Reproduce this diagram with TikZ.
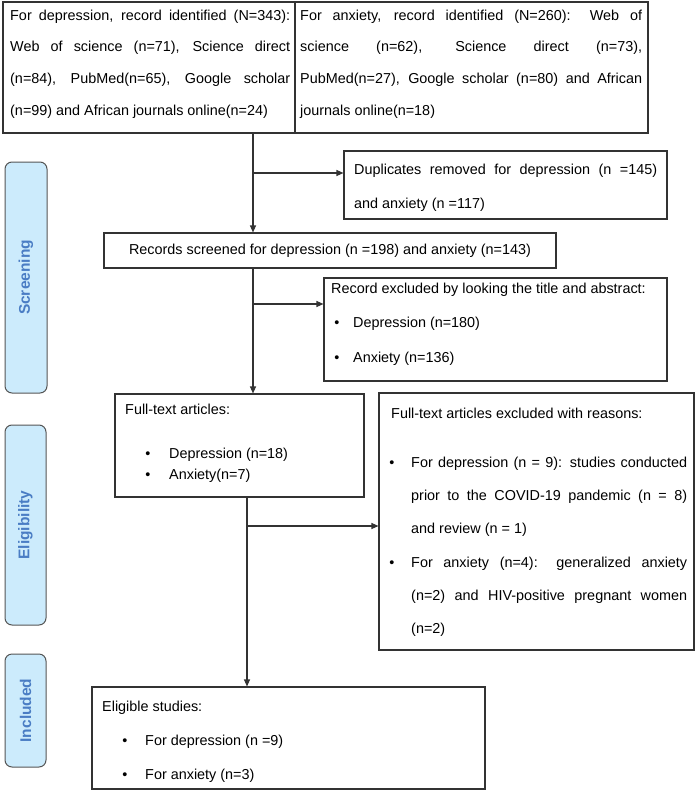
\documentclass[tikz,border=0pt]{standalone}
\usepackage{fontspec}
\setmainfont{Liberation Sans}
\usetikzlibrary{arrows.meta,fit}
\definecolor{lanefill}{HTML}{CCEBFC}
\definecolor{lanetext}{HTML}{4A7DC4}
\definecolor{lanedraw}{HTML}{555555}
\definecolor{boxdraw}{HTML}{333333}
\newcommand\fs[1]{\fontsize{14.4}{#1}\selectfont}
\newcommand\topstrut{\rule{0pt}{12pt}}
\hbadness=10000
\begin{document}
\begin{tikzpicture}[x=1pt,y=-1pt,
  box/.style={draw=boxdraw, line width=1.1pt, inner sep=0pt},
  lane/.style={draw=lanedraw, fill=lanefill, line width=1pt, rounded corners=7pt, inner sep=0pt},
  lanelabel/.style={rotate=90, text=lanetext, inner sep=0pt, font=\bfseries\fontsize{15.5}{18}\selectfont},
  para/.style={anchor=north west, inner sep=0pt, align=justify},
  oneline/.style={anchor=base west, inner sep=0pt, font=\fs{17}},
  bul/.style={anchor=base, inner sep=0pt, font=\fs{17}},
  conn/.style={draw=boxdraw, line width=1.1pt},
  arr/.style={draw=boxdraw, line width=1.1pt, -{Triangle[length=7pt,width=6pt]}}]
\useasboundingbox (0,0) rectangle (699,792);

% lanes
\node[lane, fit={(5,162) (47,393)}] (ls) {};
\node[lanelabel] (lst) at (ls.center) {Screening};
\node[lane, fit={(5,425) (46,625)}] (le) {};
\node[lanelabel] (let) at (le.center) {Eligibility};
\node[lane, fit={(5,654) (46,767)}] (li) {};
\node[lanelabel] (lit) at (li.center) {Included};

% top boxes
\node[box, fit={(3,2) (295,133)}] (tl) {};
\node[box, fit={(295,2) (648,133)}] (tr) {};
\node[para, text width=280pt, font=\fs{31.7}] (tlt) at (10,8) {\noindent\topstrut For depression, record identified (N=343):\linebreak Web of science (n=71), Science direct\linebreak (n=84), PubMed(n=65), Google scholar\linebreak (n=99) and African journals online(n=24)};
\node[para, text width=342pt, font=\fs{31.7}] (trt) at (300,8) {\noindent\topstrut For anxiety, record identified (N=260): Web of\linebreak science (n=62), Science direct (n=73),\linebreak PubMed(n=27), Google scholar (n=80) and African\linebreak journals online(n=18)};

% duplicates
\node[box, fit={(344,151) (667,219)}] (dup) {};
\node[para, text width=303pt, font=\fs{34}] (dupt) at (354,162) {\noindent\topstrut Duplicates removed for depression (n =145)\linebreak and anxiety (n =117)};

% records screened
\node[box, fit={(104,233) (556,268)}] (rs) {};
\node[inner sep=0pt, font=\fs{17}] (rst) at (rs.center) {Records screened for depression (n =198) and anxiety (n=143)};

% record excluded
\node[box, fit={(324,278) (667,381)}] (rex) {};
\node[oneline] (rext) at (331,293) {Record excluded by looking the title and abstract:};
\node[bul] (rexb1) at (337,327) {\textbullet};
\node[oneline] (rext1) at (353,327) {Depression (n=180)};
\node[bul] (rexb2) at (337,362) {\textbullet};
\node[oneline] (rext2) at (353,362) {Anxiety (n=136)};

% full-text articles
\node[box, fit={(115,394) (364,497)}] (ft) {};
\node[oneline] (ftt) at (125,414) {Full-text articles:};
\node[bul] (ftb1) at (148,458) {\textbullet};
\node[oneline] (ftt1) at (169,458) {Depression (n=18)};
\node[bul] (ftb2) at (148,479) {\textbullet};
\node[oneline] (ftt2) at (169,479) {Anxiety(n=7)};

% full-text excluded
\node[box, fit={(379,393) (694,650)}] (exr) {};
\node[oneline] (exrt) at (391,418) {Full-text articles excluded with reasons:};
\node[bul] (exrb1) at (392,467) {\textbullet};
\node[para, text width=276pt, font=\fs{33}] (exrt1) at (411,455) {\noindent\topstrut For depression (n = 9): studies conducted\linebreak prior to the COVID-19 pandemic (n = 8)\linebreak and review (n = 1)};
\node[bul] (exrb2) at (392,567) {\textbullet};
\node[para, text width=276pt, font=\fs{33}] (exrt2) at (411,555) {\noindent\topstrut For anxiety (n=4): generalized anxiety\linebreak (n=2) and HIV-positive pregnant women\linebreak (n=2)};

% eligible
\node[box, fit={(92,687) (485,789)}] (el) {};
\node[oneline] (elt) at (102,711) {Eligible studies:};
\node[bul] (elb1) at (125,745) {\textbullet};
\node[oneline] (elt1) at (145,745) {For depression (n =9)};
\node[bul] (elb2) at (125,779) {\textbullet};
\node[oneline] (elt2) at (145,779) {For anxiety (n=3)};

% connectors
\coordinate (j1) at (253,173);
\coordinate (j2) at (253,304);
\coordinate (j3) at (247,526);
\draw[arr] (j1 |- tl.south) -- (j1 |- rs.north);
\draw[arr] (j1) -- (j1 -| dup.west);
\draw[arr] (j2 |- rs.south) -- (j2 |- ft.north);
\draw[arr] (j2) -- (j2 -| rex.west);
\draw[arr] (j3 |- ft.south) -- (j3 |- el.north);
\draw[arr] (j3) -- (j3 -| exr.west);
\end{tikzpicture}
\end{document}
